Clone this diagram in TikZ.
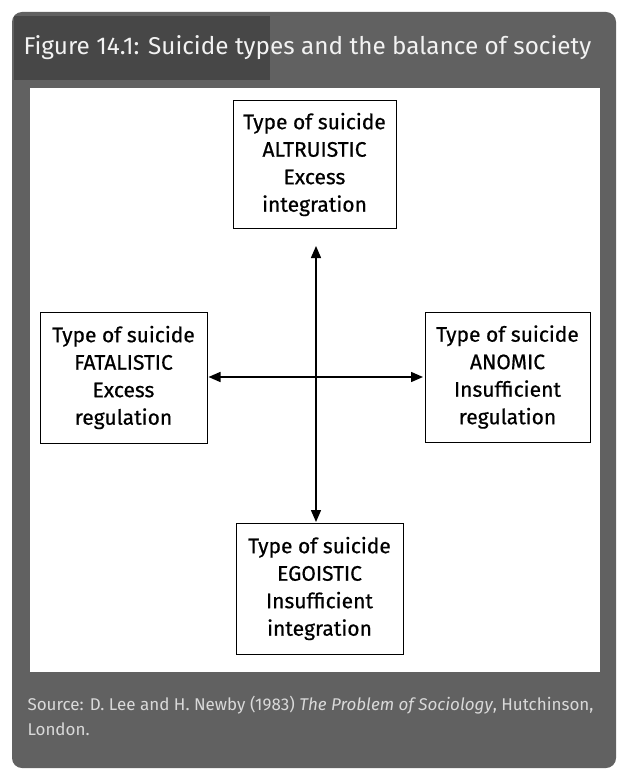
\documentclass[tikz,border=0pt]{standalone}
\usepackage{fontspec}
\setmainfont{Fira Sans}
\newfontfamily\boxfont{Fira Sans}[FakeBold=0.6]
\usetikzlibrary{arrows.meta}
\begin{document}
\begin{tikzpicture}[x=1pt,y=-1pt,
  typebox/.style={draw=black,line width=1pt,fill=white,align=center,font=\boxfont\fontsize{21}{27.5}\selectfont,inner sep=0pt},
  conn/.style={line width=1.5pt,{Triangle[length=12pt,width=10pt]}-{Triangle[length=12pt,width=10pt]}}]
\useasboundingbox (0,0) rectangle (620,770);
\fill[white] (0,0) rectangle (620,770);
\fill[black!62,rounded corners=10pt] (12,12) rectangle (616,768);
\fill[black!72] (14,16) rectangle (270,80);
\fill[white] (30,88) rectangle (600,672);
\node[anchor=west,text=white!95!black,font=\fontsize{24.3}{26}\selectfont] (title) at (20,48) {Figure 14.1: Suicide types and the balance of society};
\node[anchor=west,text=white!85!black,font=\fontsize{17}{25}\selectfont,align=left] (source) at (24,716) {Source: D. Lee and H. Newby (1983) \textit{The Problem of Sociology}, Hutchinson,\\ London.};
\node[typebox,minimum width=163pt,minimum height=127pt] (alt) at (314.5,164.5) {Type of suicide\\ALTRUISTIC\\Excess\\integration};
\node[typebox,minimum width=167pt,minimum height=131pt] (fat) at (123.5,377.5) {Type of suicide\\FATALISTIC\\Excess\\regulation};
\node[typebox,minimum width=165pt,minimum height=130pt] (ano) at (507.5,377) {Type of suicide\\ANOMIC\\Insufficient\\regulation};
\node[typebox,minimum width=167pt,minimum height=131pt] (ego) at (319.5,588.5) {Type of suicide\\EGOISTIC\\Insufficient\\integration};
\coordinate (vt) at (316,246);
\coordinate (vb) at (316,522);
\coordinate (hl) at (208.5,377);
\coordinate (hr) at (423,377);
\draw[conn] (vt) -- (vb);
\draw[conn] (hl) -- (hr);
\end{tikzpicture}
\end{document}
